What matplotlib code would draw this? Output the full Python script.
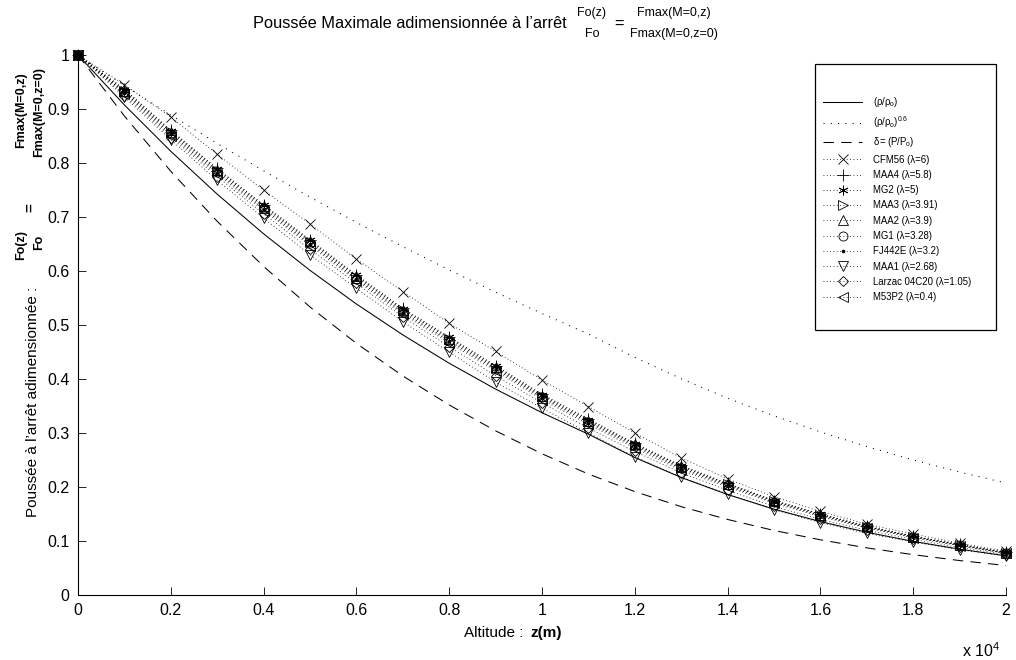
import matplotlib
matplotlib.use("Agg")
import matplotlib.pyplot as plt
from matplotlib.patches import Rectangle

plt.rcParams['font.family'] = ['Liberation Sans', 'DejaVu Sans']
plt.rcParams['mathtext.fontset'] = 'custom'
plt.rcParams['mathtext.rm'] = 'Liberation Sans'
plt.rcParams['mathtext.it'] = 'Liberation Sans'
plt.rcParams['mathtext.bf'] = 'Liberation Sans:bold'

# ---------------- data ----------------
altitude = [0, 1000, 2000, 3000, 4000, 5000, 6000, 7000, 8000, 9000, 10000,
            11000, 12000, 13000, 14000, 15000, 16000, 17000, 18000, 19000, 20000]

rho_ratio = [1.0000, 0.9075, 0.8217, 0.7423, 0.6689, 0.6012, 0.5389, 0.4817, 0.4292,
             0.3813, 0.3376, 0.2978, 0.2546, 0.2176, 0.1860, 0.1590, 0.1359, 0.1162,
             0.0993, 0.0849, 0.0726]
rho_ratio_06 = [1.0000, 0.9434, 0.8888, 0.8363, 0.7856, 0.7369, 0.6901, 0.6451, 0.6020,
                0.5607, 0.5213, 0.4834, 0.4401, 0.4005, 0.3645, 0.3318, 0.3020, 0.2749,
                0.2501, 0.2277, 0.2073]
delta_ratio = [1.0000, 0.8870, 0.7846, 0.6920, 0.6085, 0.5334, 0.4660, 0.4057, 0.3519,
               0.3040, 0.2615, 0.2240, 0.1915, 0.1636, 0.1399, 0.1195, 0.1022, 0.0873,
               0.0747, 0.0638, 0.0546]

cfm56 = [1, .945, .885, .816, .750, .687, .622, .562, .503, .451, .398, .349, .300, .254,
         .215, .182, .155, .131, .113, .096, .081]
maa4 = [1, .937, .861, .790, .723, .658, .593, .531, .478, .425, .372, .326, .281, .240,
        .207, .175, .150, .128, .109, .094, .079]
mg2 = [1, .936, .860, .789, .722, .657, .592, .530, .477, .424, .371, .325, .280, .239,
       .206, .175, .150, .127, .109, .093, .079]
maa3 = [1, .933, .857, .786, .719, .654, .589, .527, .474, .421, .368, .322, .278, .237,
        .205, .174, .149, .126, .108, .093, .078]
maa2 = [1, .934, .858, .787, .720, .655, .590, .528, .475, .422, .369, .323, .279, .238,
        .205, .174, .149, .127, .108, .093, .078]
mg1 = [1, .931, .854, .783, .716, .651, .586, .524, .471, .419, .366, .320, .276, .235,
       .203, .172, .147, .126, .108, .092, .078]
fj442e = [1, .930, .853, .782, .715, .650, .585, .523, .470, .418, .365, .319, .275, .234,
          .202, .172, .147, .125, .107, .092, .077]
maa1 = [1, .922, .843, .768, .698, .630, .568, .506, .450, .394, .346, .300, .256, .218,
        .187, .158, .134, .114, .098, .084, .072]
larzac = [1, .925, .847, .775, .706, .640, .577, .515, .460, .406, .356, .309, .266, .226,
          .194, .164, .140, .120, .103, .088, .075]
m53p2 = [1, .928, .850, .779, .712, .647, .582, .520, .467, .415, .362, .316, .272, .231,
         .200, .170, .145, .124, .106, .091, .077]

engine_labels = ['CFM56 (λ=6)', 'MAA4 (λ=5.8)', 'MG2 (λ=5)', 'MAA3 (λ=3.91)',
                 'MAA2 (λ=3.9)', 'MG1 (λ=3.28)', 'FJ442E (λ=3.2)', 'MAA1 (λ=2.68)',
                 'Larzac 04C20 (λ=1.05)', 'M53P2 (λ=0.4)']
engine_values = [cfm56, maa4, mg2, maa3, maa2, mg1, fj442e, maa1, larzac, m53p2]
engine_markers = ['x', '+', (6, 2, 0), '>', '^', 'o', '.', 'v', 'D', '<']
engine_msize = [6.5, 8, 7, 7, 7, 6.5, 4, 7.5, 5.5, 7]

xticks = [0, 2000, 4000, 6000, 8000, 10000, 12000, 14000, 16000, 18000, 20000]
xticklabels = ['0', '0.2', '0.4', '0.6', '0.8', '1', '1.2', '1.4', '1.6', '1.8', '2']
yticks = [0, 0.1, 0.2, 0.3, 0.4, 0.5, 0.6, 0.7, 0.8, 0.9, 1.0]
yticklabels = ['0', '0.1', '0.2', '0.3', '0.4', '0.5', '0.6', '0.7', '0.8', '0.9', '1']

# ---------------- figure ----------------
W, H = 1016, 660
fig = plt.figure(figsize=(W / 100, H / 100), dpi=100)
AX_L, AX_R, AX_T, AX_B = 78, 1006, 55, 595
ax = fig.add_axes([AX_L / W, (H - AX_B) / H, (AX_R - AX_L) / W, (AX_B - AX_T) / H])

handles = []
h, = ax.plot(altitude, rho_ratio, color='k', lw=0.75, ls='-', clip_on=False)
handles.append(h)
h, = ax.plot(altitude, rho_ratio_06, color='k', lw=0.75, ls=(0, (1, 6)), clip_on=False)
handles.append(h)
h, = ax.plot(altitude, delta_ratio, color='k', lw=0.75, ls=(0, (10, 7)), clip_on=False)
handles.append(h)

for vals, mk, ms in zip(engine_values, engine_markers, engine_msize):
    h, = ax.plot(altitude, vals, color='k', lw=0.6, ls=(0, (1, 3)),
                 marker=mk, markersize=ms, markerfacecolor='none' if mk != '.' else 'k',
                 markeredgecolor='k', markeredgewidth=0.6, clip_on=False)
    handles.append(h)

ax.set_xlim(0, 20000)
ax.set_ylim(0, 1)
ax.set_xticks(xticks)
ax.set_xticklabels(xticklabels)
ax.set_yticks(yticks)
ax.set_yticklabels(yticklabels)
ax.tick_params(direction='in', length=6, width=0.6, labelsize=11.5, pad=6)
for s in ['top', 'right']:
    ax.spines[s].set_visible(False)
for s in ['left', 'bottom']:
    ax.spines[s].set_linewidth(0.8)

# legend box (pixel box 815..996 x 64..330)
bw = AX_R - AX_L
bh = AX_B - AX_T
rect = Rectangle(((815 - AX_L) / bw, (AX_B - 330) / bh), (996 - 815) / bw, (330 - 64) / bh,
                 transform=ax.transAxes, facecolor='white', edgecolor='k', lw=0.9,
                 zorder=4, clip_on=False)
ax.add_patch(rect)
labels = [r'$(\rho/\rho_o)$', r'$(\rho/\rho_o)^{0.6}$', r'$\delta = (P/P_o)$'] + engine_labels
leg = ax.legend(handles, labels, loc='upper left',
                bbox_to_anchor=((823 - AX_L) / bw, (AX_B - 95) / bh),
                frameon=False, fontsize=6.9, handlelength=4.1, handletextpad=1.15,
                labelspacing=0.55, borderpad=0, borderaxespad=0)
leg.set_zorder(5)

# title pieces
fig.text(253 / W, 1 - 23 / H, "Poussée Maximale adimensionnée à l’arrêt", fontsize=11.8,
         ha='left', va='center')
fig.text(592 / W, 1 - 13 / H, "Fo(z)", fontsize=9, ha='center', va='center')
fig.text(592 / W, 1 - 34 / H, "Fo", fontsize=9, ha='center', va='center')
fig.text(619 / W, 1 - 24 / H, "=", fontsize=11.8, ha='center', va='center')
fig.text(674 / W, 1 - 13 / H, "Fmax(M=0,z)", fontsize=9, ha='center', va='center')
fig.text(674 / W, 1 - 34 / H, "Fmax(M=0,z=0)", fontsize=9, ha='center', va='center')

# y label pieces
fig.text(33 / W, 1 - 400 / H, "Poussée à l’arrêt adimensionnée : ", fontsize=11,
         rotation=90, ha='center', va='center')
fig.text(21 / W, 1 - 245 / H, "Fo(z)", fontsize=9, fontweight='bold', rotation=90,
         ha='center', va='center')
fig.text(39 / W, 1 - 242 / H, "Fo", fontsize=9, fontweight='bold', rotation=90,
         ha='center', va='center')
fig.text(30 / W, 1 - 208 / H, "=", fontsize=11, fontweight='bold', rotation=90,
         ha='center', va='center')
fig.text(21 / W, 1 - 110 / H, "Fmax(M=0,z)", fontsize=9, fontweight='bold', rotation=90,
         ha='center', va='center')
fig.text(39 / W, 1 - 112 / H, "Fmax(M=0,z=0)", fontsize=9, fontweight='bold', rotation=90,
         ha='center', va='center')

# x label pieces
fig.text(528 / W, 1 - 633 / H, "Altitude : ", fontsize=11, ha='right', va='center')
fig.text(530 / W, 1 - 633 / H, "z(m)", fontsize=11, fontweight='bold', ha='left', va='center')
fig.text(962 / W, 1 - 651 / H, r"x 10$^{4}$", fontsize=11.5, ha='left', va='center')

fig.savefig("out.png", dpi=100)
